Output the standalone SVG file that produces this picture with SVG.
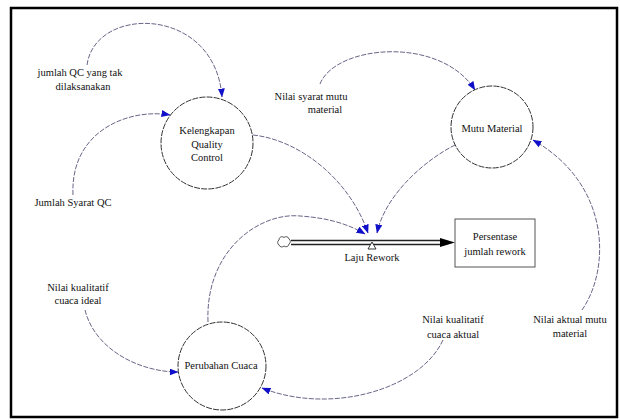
<svg xmlns="http://www.w3.org/2000/svg" width="620" height="420" viewBox="0 0 620 420">
<style>
text{font-family:"Liberation Serif","Times New Roman",serif;font-size:10.5px;fill:#111;text-anchor:middle}
.node{fill:#fff;stroke:#333;stroke-width:1;stroke-dasharray:6 1.2}
.link{fill:none;stroke:#55557a;stroke-width:0.9;stroke-dasharray:5 1.5;marker-end:url(#ah)}
.pipe{fill:none;stroke:#222;stroke-width:1.3}
</style>
<defs>
<marker id="ah" markerWidth="9" markerHeight="7" refX="8.5" refY="3.5" orient="auto" markerUnits="userSpaceOnUse">
<path d="M0,0 L9,3.5 L0,7 Z" fill="#1010c8"/>
</marker>
</defs>
<rect x="11" y="8" width="606" height="409" fill="#fff" stroke="#000" stroke-width="2.5"/>

<g id="connectors">
<path class="link" d="M87,65 C95,5 215,5 222,97"/>
<path class="link" d="M73,195 C70,130 130,108 170,115"/>
<path class="link" d="M253,135 C300,140 350,180 368,233"/>
<path class="link" d="M320,84 C335,45 440,35 475,90"/>
<path class="link" d="M455,145 C425,160 385,195 377,233"/>
<path class="link" d="M208,322 C205,250 260,212 300,216 C330,218 350,225 365,234"/>
<path class="link" d="M85,310 C95,350 140,372 178,372"/>
<path class="link" d="M443,340 C420,390 330,415 262,388"/>
<path class="link" d="M582,310 C610,270 612,185 533,140"/>
<path class="pipe" d="M291,240.5 L441,240.5 M291,244.5 L441,244.5"/>
<path d="M440,238 L455,242.5 L440,247 Z" fill="#000"/>
</g>

<g id="source-cloud">
<path d="M279,245 a3,3 0 0 1 0,-5 a3,3 0 0 1 5,-2.5 a3,3 0 0 1 5,1.5 a3,3 0 0 1 0,5 a3,3 0 0 1 -5,2 a3,3 0 0 1 -5,-1 Z" fill="#fff" stroke="#444" stroke-width="0.9"/>
</g>

<g id="laju-rework">
<path d="M372,242 L376,249 L368,249 Z" fill="#fff" stroke="#222" stroke-width="0.9"/>
<text x="372" y="261">Laju Rework</text>
</g>

<g id="kelengkapan-qc">
<circle class="node" cx="207" cy="143" r="46"/>
<text x="207" y="134">Kelengkapan</text>
<text x="207" y="148">Quality</text>
<text x="207" y="161">Control</text>
</g>

<g id="mutu-material">
<circle class="node" cx="492" cy="127" r="41"/>
<text x="492" y="132">Mutu Material</text>
</g>

<g id="perubahan-cuaca">
<circle class="node" cx="222" cy="366" r="44"/>
<text x="221" y="369">Perubahan Cuaca</text>
</g>

<g id="persentase-rework">
<rect x="455" y="219" width="80" height="48" fill="#fff" stroke="#555" stroke-width="1"/>
<text x="495" y="240">Persentase</text>
<text x="495" y="255">jumlah rework</text>
</g>

<g id="jumlah-qc-tak">
<text x="80" y="76">jumlah QC yang tak</text>
<text x="83" y="90">dilaksanakan</text>
</g>

<g id="jumlah-syarat-qc">
<text x="73" y="206">Jumlah Syarat QC</text>
</g>

<g id="nilai-syarat-mutu">
<text x="311" y="100">Nilai syarat mutu</text>
<text x="325" y="113">material</text>
</g>

<g id="nilai-kualitatif-ideal">
<text x="78" y="291">Nilai kualitatif</text>
<text x="78" y="304">cuaca ideal</text>
</g>

<g id="nilai-kualitatif-aktual">
<text x="453" y="323">Nilai kualitatif</text>
<text x="453" y="338">cuaca aktual</text>
</g>

<g id="nilai-aktual-mutu">
<text x="570" y="323">Nilai aktual mutu</text>
<text x="570" y="337">material</text>
</g>
</svg>
